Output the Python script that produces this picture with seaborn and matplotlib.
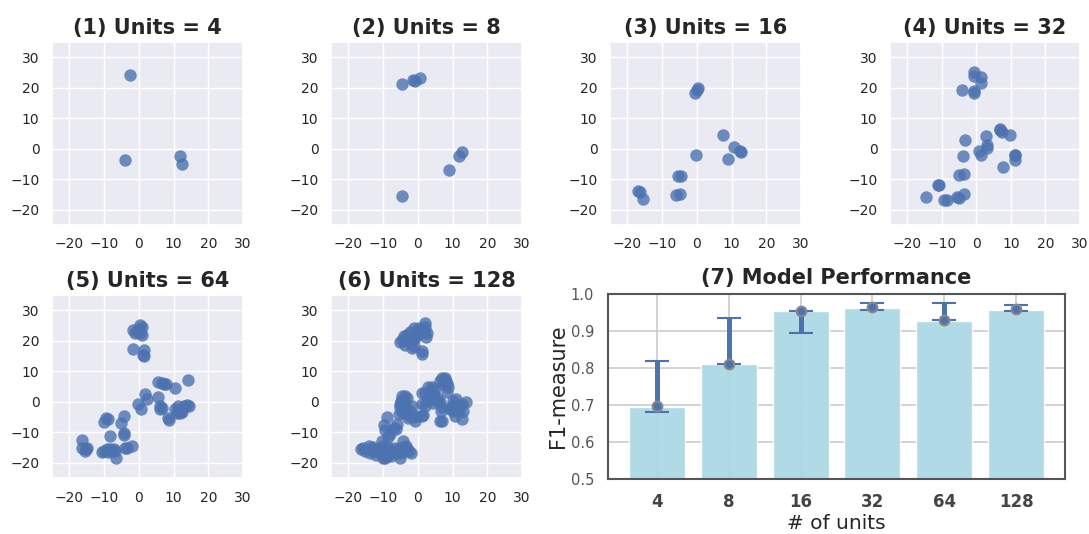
import numpy as np
import pandas as pd
import matplotlib
matplotlib.use("Agg")
import matplotlib.pyplot as plt
import seaborn as sns

# 2-D embeddings of the hidden units for each layer size
emb_4 = [(-2.5, 24.3), (-4.0, -3.7), (12.0, -2.5), (12.5, -5.0)]

emb_8 = [(-4.5, 21.2), (-1.5, 22.5), (-0.8, 22.2), (0.5, 23.2),
         (9.0, -7.0), (12.0, -2.5), (12.8, -1.2), (-4.5, -15.5)]

emb_16 = [(0.0, 19.4), (-0.4, 18.4), (0.2, 19.8), (7.4, 4.5), (10.6, 0.5),
          (12.3, -0.6), (12.7, -1.0), (9.1, -3.4), (-0.2, -2.2),
          (-5.4, -9.0), (-4.5, -8.9), (-6.1, -15.1), (-4.7, -14.7),
          (-16.9, -14.0), (-16.4, -14.3), (-15.4, -16.5)]

emb_32 = [(-0.8, 25.1), (-0.8, 24.0), (1.3, 23.5), (1.3, 21.6), (-4.3, 19.1),
          (-0.8, 18.9), (-0.8, 18.4), (6.9, 6.4), (7.4, 5.6), (9.8, 4.5),
          (2.8, 4.3), (-3.4, 3.0), (3.1, 1.3), (3.1, 0.2), (0.9, -0.9),
          (1.4, -1.9), (-3.8, -2.3), (11.1, -1.9), (11.1, -3.6), (7.7, -6.1),
          (-4.9, -8.6), (-3.7, -8.2), (-11.0, -12.0), (-10.7, -11.8),
          (-14.6, -15.7), (-9.4, -16.8), (-8.5, -16.8), (-5.6, -15.7),
          (-4.9, -16.0), (-3.7, -14.7), (6.8, 6.0), (11.3, -2.2)]

emb_64 = [(0.4, 25.1), (0.9, 24.4), (-0.2, 24.0), (-0.6, 23.2), (-1.7, 23.4),
          (-1.1, 22.5), (0.4, 22.5), (1.0, 22.0), (0.0, 23.6),
          (-1.7, 17.3), (1.6, 17.1), (1.3, 15.4), (1.5, 14.9),
          (5.6, 6.4), (6.6, 6.0), (7.3, 5.7), (7.8, 5.7), (10.4, 4.6), (14.3, 7.1),
          (1.8, 2.4), (2.3, 1.0), (5.5, 1.5), (-0.1, -0.7), (0.6, -2.3),
          (6.0, -1.4), (6.6, -2.0), (6.1, -2.4), (8.5, -5.2), (8.8, -6.0),
          (10.4, -2.3), (11.4, -1.4), (12.3, -2.5), (11.8, -3.8), (10.9, -3.8),
          (13.8, -1.2), (14.5, -1.4), (13.1, -1.4), (12.5, -3.3), (11.2, -2.9),
          (-4.4, -4.7), (-5.1, -7.1), (-9.4, -5.2), (-8.8, -5.8), (-10.1, -6.8),
          (-8.4, -11.2), (-4.4, -10.3), (-4.4, -10.9),
          (-16.4, -12.7), (-16.4, -15.1), (-15.3, -15.4), (-14.8, -15.2), (-15.6, -16.0),
          (-10.6, -16.5), (-9.2, -15.4), (-7.8, -16.0), (-6.8, -16.3), (-10.1, -16.0),
          (-8.2, -15.4), (-9.0, -16.6), (-7.2, -15.6), (-6.5, -18.6),
          (-3.4, -15.0), (-2.0, -14.5), (-3.9, -15.3)]

emb_128 = [
    # upper group
    (-5.2, 19.5), (-4.1, 21.4), (-3.1, 21.9), (-2.2, 23.0), (-1.2, 24.3),
    (0.2, 24.1), (2.1, 25.7), (1.6, 23.6), (2.6, 22.5), (2.3, 21.1),
    (0.9, 22.5), (-0.3, 22.0), (-2.7, 19.8), (-3.6, 18.7), (-1.7, 17.6),
    (-1.2, 18.4), (1.1, 16.6), (1.3, 15.5), (-4.6, 20.3), (-1.7, 20.3),
    (-3.0, 20.6), (0.0, 23.3), (1.8, 22.9), (-0.8, 21.0), (2.0, 24.6),
    # right group
    (6.9, 7.9), (7.8, 7.9), (6.4, 6.8), (8.3, 6.3), (7.3, 5.8), (8.7, 4.7),
    (8.3, 3.3), (4.0, 4.7), (3.0, 4.7), (5.0, 4.1), (1.1, 2.8), (2.1, 3.0),
    (4.7, 2.5), (3.5, 1.4), (2.6, 0.3), (5.4, 0.3), (6.4, -0.2), (1.1, -0.8),
    (2.1, -1.3), (6.9, -1.8), (6.7, -2.9), (7.1, -6.2), (6.4, -6.2),
    (10.0, 0.3), (11.1, 0.9), (14.0, 0.0), (12.6, -0.8), (10.9, -1.8),
    (11.9, -2.9), (13.0, -2.9), (10.7, -4.6), (12.6, -5.7), (9.7, -1.3),
    (10.0, -2.9), (9.3, -2.4), (3.9, 3.4), (5.8, 1.0), (7.8, 7.0),
    (12.0, -1.5), (4.5, -0.5),
    # central group
    (-4.6, 2.0), (-3.6, 2.0), (-3.0, 1.1), (-4.8, 0.3), (-4.1, -0.8),
    (-5.0, -1.8), (-3.6, -1.8), (-4.6, -3.3), (-5.5, -4.0), (-3.1, -4.0),
    (-2.2, -4.6), (-1.2, -5.1), (-0.3, -4.6), (1.1, -4.8), (-0.8, -6.2),
    (-1.7, -1.3), (-2.2, -2.9), (-6.0, -7.3), (-6.8, -8.5), (-8.9, -5.1),
    (-9.8, -7.6), (-9.4, -9.4), (-7.9, -10.5), (-8.7, -11.6), (-4.1, 0.3),
    (1.6, -4.3), (-5.2, -0.8), (-3.2, -2.8), (-6.3, -9.0), (-2.8, -5.3),
    # lower-left group
    (-15.9, -15.1), (-15.2, -16.0), (-14.2, -14.6), (-13.7, -16.7),
    (-11.8, -15.4), (-10.9, -16.2), (-9.9, -17.2), (-9.4, -18.6),
    (-8.5, -15.6), (-8.0, -16.7), (-7.1, -16.2), (-6.1, -16.7),
    (-5.2, -18.3), (-4.2, -12.8), (-3.3, -14.4), (-2.4, -16.0),
    (-1.9, -16.7), (-4.2, -14.9), (-5.7, -15.4), (-9.9, -14.4),
    (-12.8, -14.9), (-9.0, -17.7), (-7.6, -17.9), (-10.4, -12.8),
    (-16.4, -15.4), (-13.0, -15.8), (-11.2, -16.6), (-8.7, -14.9),
    (-6.6, -15.2), (-4.8, -16.8), (-3.0, -15.4), (-12.0, -17.3), (-10.0, -18.3),
]

# Model performance per layer size
units = ["4", "8", "16", "32", "64", "128"]
f1_mean = [0.695, 0.810, 0.953, 0.962, 0.926, 0.958]
f1_point = [0.697, 0.812, 0.955, 0.965, 0.929, 0.960]
f1_low = [0.680, 0.812, 0.895, 0.957, 0.929, 0.955]
f1_high = [0.818, 0.935, 0.955, 0.975, 0.976, 0.971]

sns.set_theme(style="darkgrid")
blue = sns.color_palette("deep")[0]

fig = plt.figure(figsize=(10.89, 5.34), dpi=100)
W, H = 1089.0, 534.0


def box(left, top, right, bottom):
    return [left / W, (H - bottom) / H, (right - left) / W, (bottom - top) / H]


scatter_boxes = [
    box(52, 42, 243, 225), box(331, 42, 522, 225),
    box(610, 42, 801, 225), box(890, 42, 1080, 225),
    box(52, 295, 243, 478), box(331, 295, 522, 478),
]
embeddings = [emb_4, emb_8, emb_16, emb_32, emb_64, emb_128]
sizes = [4, 8, 16, 32, 64, 128]

for i, (rect, emb, n) in enumerate(zip(scatter_boxes, embeddings, sizes)):
    ax = fig.add_axes(rect)
    df = pd.DataFrame(emb, columns=["x", "y"])
    sns.scatterplot(data=df, x="x", y="y", ax=ax, color=blue, s=80,
                    alpha=0.8, linewidth=0, legend=False)
    ax.set_xlim(-25, 30)
    ax.set_ylim(-25, 35)
    ax.set_xticks([-20, -10, 0, 10, 20, 30])
    ax.set_yticks([-20, -10, 0, 10, 20, 30])
    ax.tick_params(labelsize=10, pad=3, labelcolor="#262626")
    ax.set_xlabel("")
    ax.set_ylabel("")
    ax.set_title(f"({i + 1}) Units = {n}", fontsize=15, fontweight="bold",
                 color="#262626")

# Bar chart of F1 scores
ax7 = fig.add_axes(box(608, 294, 1065, 479))
ax7.set_facecolor("white")
perf = pd.DataFrame({"units": units, "f1": f1_mean})
sns.barplot(data=perf, x="units", y="f1", ax=ax7, color="lightblue",
            width=0.78, alpha=0.95, errorbar=None, saturation=1)
pos = np.arange(len(units))
pt = np.array(f1_point)
yerr = np.vstack([pt - np.array(f1_low), np.array(f1_high) - pt])
ax7.errorbar(pos, pt, yerr=yerr, fmt="o", color=blue, ecolor=blue,
             elinewidth=3.6, capsize=8.5, capthick=1.8, markersize=7,
             markeredgecolor="#888888", markeredgewidth=1.5, zorder=5)
ax7.set_ylim(0.5, 1.0)
ax7.set_xlim(-0.68, 5.68)
ax7.set_yticks([0.5, 0.6, 0.7, 0.8, 0.9, 1.0])
ax7.grid(True, color="#cccccc", linewidth=1.2)
ax7.set_axisbelow(True)
for sp in ax7.spines.values():
    sp.set_visible(True)
    sp.set_color("#555555")
    sp.set_linewidth(1.5)
ax7.tick_params(axis="y", labelsize=10.5, labelcolor="#555555", pad=4)
ax7.tick_params(axis="x", labelsize=12, labelcolor="#444444", pad=4)
for lbl in ax7.get_xticklabels():
    lbl.set_fontweight("bold")
ax7.set_xlabel("# of units", fontsize=14.5, color="#262626", labelpad=2)
ax7.set_ylabel("F1-measure", fontsize=15, color="#262626", labelpad=2)
ax7.set_title("(7) Model Performance", fontsize=15, fontweight="bold", pad=7,
              color="#262626")

fig.savefig("out.png", dpi=100)
